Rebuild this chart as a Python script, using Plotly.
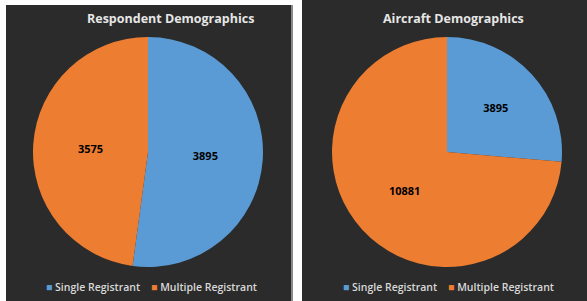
import plotly.graph_objects as go

labels = ["Single Registrant", "Multiple Registrant"]
respondent_values = [3895, 3575]
aircraft_values = [3895, 10881]
titles = ["Respondent Demographics", "Aircraft Demographics"]
colors = ["#5B9BD5", "#ED7D31"]

W, H = 587, 301

def px(x):
    return x / W

def py(y):
    return 1 - y / H

fig = go.Figure()

common = dict(
    labels=labels,
    sort=False,
    direction="clockwise",
    rotation=0,
    texttemplate="%{value:.0f}",
    textposition="inside",
    insidetextorientation="horizontal",
    textfont=dict(family="Open Sans", size=11, color="#000000", weight="bold"),
    marker=dict(colors=colors, line=dict(width=0)),
    hoverinfo="label+value",
    showlegend=False,
)

fig.add_trace(go.Pie(values=respondent_values, name=titles[0],
                     domain=dict(x=[px(33), px(263)], y=[py(267), py(37)]),
                     **common))
fig.add_trace(go.Pie(values=aircraft_values, name=titles[1],
                     domain=dict(x=[px(332), px(562)], y=[py(267), py(37)]),
                     **common))

panel = "#2b2b2b"
shapes = [
    dict(type="rect", xref="paper", yref="paper", x0=px(6), x1=px(292), y0=0, y1=py(5),
         fillcolor=panel, line=dict(width=0), layer="below"),
    dict(type="rect", xref="paper", yref="paper", x0=px(291), x1=px(293), y0=0, y1=py(5),
         fillcolor="#8a8a8a", line=dict(width=0), layer="below"),
    dict(type="rect", xref="paper", yref="paper", x0=px(302), x1=1, y0=0, y1=1,
         fillcolor=panel, line=dict(width=0), layer="below"),
]

# legend rows built from the labels / colours
legend_text = "&nbsp;&nbsp;&nbsp;&nbsp;".join(
    f"<span style='color:{c}'>■</span> {l}" for l, c in zip(labels, colors)
)

annotations = [
    dict(text="<b>" + titles[0] + "</b>", x=px(170), y=py(19), xref="paper", yref="paper",
         showarrow=False, font=dict(family="Open Sans", size=12.5, color="#e6e6e6"),
         xanchor="center", yanchor="middle"),
    dict(text="<b>" + titles[1] + "</b>", x=px(453), y=py(19), xref="paper", yref="paper",
         showarrow=False, font=dict(family="Open Sans", size=12.5, color="#e6e6e6"),
         xanchor="center", yanchor="middle"),
    dict(text=legend_text, x=px(151), y=py(287), xref="paper", yref="paper",
         showarrow=False, font=dict(family="Open Sans", size=10.5, color="#d9d9d9", weight=600),
         xanchor="center", yanchor="middle"),
    dict(text=legend_text, x=px(448), y=py(287), xref="paper", yref="paper",
         showarrow=False, font=dict(family="Open Sans", size=10.5, color="#d9d9d9", weight=600),
         xanchor="center", yanchor="middle"),
]

fig.update_layout(
    width=W, height=H,
    margin=dict(l=0, r=0, t=0, b=0),
    paper_bgcolor="#ffffff",
    plot_bgcolor="#ffffff",
    shapes=shapes,
    annotations=annotations,
    showlegend=False,
)

fig.write_html(
    "out.html",
    config={"displayModeBar": False},
    post_script="document.body.style.margin='0';document.body.style.padding='0';"
                "document.documentElement.style.overflow='hidden';",
)
